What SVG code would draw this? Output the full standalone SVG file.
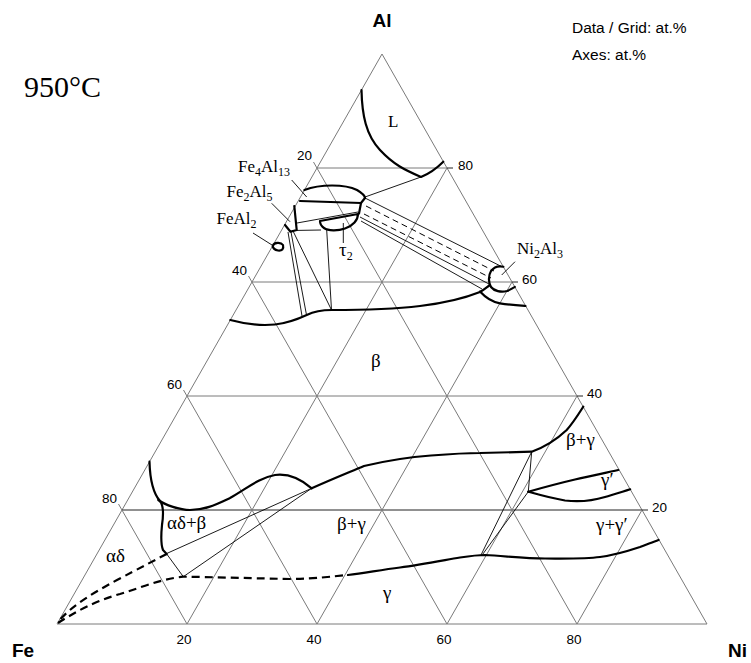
<svg xmlns="http://www.w3.org/2000/svg" width="751" height="663" viewBox="0 0 751 663">
<style>
.grid{stroke:#7a7a7a;stroke-width:1;fill:none}
.dark{stroke:#222;stroke-width:1;fill:none}
.b{stroke:#000;stroke-width:2.2;fill:none;stroke-linecap:round;stroke-linejoin:round}
.t{stroke:#000;stroke-width:0.9;fill:none}
.d{stroke:#000;stroke-width:1;fill:none;stroke-dasharray:6 4}
.bd{stroke:#000;stroke-width:2.2;fill:none;stroke-dasharray:8 5}
.ax{font-family:"Liberation Sans",Arial,sans-serif;font-size:13.5px;fill:#000}
.el{font-family:"Liberation Sans",Arial,sans-serif;font-size:19px;font-weight:bold;fill:#000}
.info{font-family:"Liberation Sans",Arial,sans-serif;font-size:15.5px;fill:#000}
.ph{font-family:"Liberation Serif","Times New Roman",serif;font-size:17px;fill:#000}
.gr{font-family:"Liberation Serif","Times New Roman",serif;font-size:19px;fill:#000}
</style>
<g id="grid">
<polygon class="grid" points="57,624 707,624 382,54"/>
<line class="dark" x1="122" y1="510" x2="642" y2="510"/>
<line class="grid" x1="187" y1="396" x2="577" y2="396"/>
<line class="grid" x1="252" y1="282" x2="512" y2="282"/>
<line class="grid" x1="317" y1="168" x2="447" y2="168"/>
<line class="grid" x1="187" y1="624" x2="447" y2="168"/>
<line class="grid" x1="317" y1="624" x2="512" y2="282"/>
<line class="grid" x1="447" y1="624" x2="577" y2="396"/>
<line class="grid" x1="577" y1="624" x2="642" y2="510"/>
<line class="grid" x1="187" y1="624" x2="118.5" y2="504"/>
<line class="grid" x1="317" y1="624" x2="183.5" y2="390"/>
<line class="grid" x1="447" y1="624" x2="248.5" y2="276"/>
<line class="grid" x1="577" y1="624" x2="313.5" y2="162"/>
<line class="dark" x1="447" y1="168" x2="453" y2="168"/>
<line class="dark" x1="512" y1="282" x2="518" y2="282"/>
<line class="dark" x1="577" y1="396" x2="583" y2="396"/>
<line class="dark" x1="642" y1="510" x2="648" y2="510"/>
</g>
<g id="axis-labels">
<text class="ax" x="312" y="160" text-anchor="end">20</text>
<text class="ax" x="247" y="275" text-anchor="end">40</text>
<text class="ax" x="182" y="389" text-anchor="end">60</text>
<text class="ax" x="117" y="503" text-anchor="end">80</text>
<text class="ax" x="458" y="169.5">80</text>
<text class="ax" x="522" y="283.5">60</text>
<text class="ax" x="587" y="397.5">40</text>
<text class="ax" x="652" y="511.5">20</text>
<text class="ax" x="184" y="644" text-anchor="middle">20</text>
<text class="ax" x="314" y="644" text-anchor="middle">40</text>
<text class="ax" x="444" y="644" text-anchor="middle">60</text>
<text class="ax" x="574" y="644" text-anchor="middle">80</text>
<text class="el" x="382" y="27" text-anchor="middle">Al</text>
<text class="el" x="12" y="657">Fe</text>
<text class="el" x="728" y="657">Ni</text>
<text class="info" x="572" y="33">Data / Grid: at.%</text>
<text class="info" x="572" y="60">Axes: at.%</text>
<text x="24" y="97" font-family="Liberation Serif,'Times New Roman',serif" font-size="30">950°C</text>
</g>
<g id="boundaries">
<path class="b" d="M361.5,90 C362,115 366,135 380,150 S405,170 421,177 Q433,172 443.3,161.7"/>
<path class="b" d="M304.4,190 C320,184 345,184 357,190 C362,193 365,196 365,198"/>
<path class="b" d="M300,201 L361,203 L365,198"/>
<path class="b" d="M361,203 L359,213.5"/>
<path class="b" d="M294.3,206 L296.7,230 L290.5,231.7 L285,225"/>
<path class="b" d="M320,221 L358,214 C358,220 353,226 345,228.5 C338,231 328,231 324,228 C321,226 320,223 320,221 Z"/>
<path class="b" d="M272.7,246 C274,242 281,242 283,245 C284,249 282,251 278,250.5 C275,250 273,248.5 272.7,246 Z"/>
<path class="b" d="M230.3,320 C245,324 260,326 275,324.5 C288,323 296,320 306.7,315 C315,311 322,310 331.5,310 C360,310 395,309 420,306 C445,303 465,298 480,292 C484,290 487,287 490,285"/>
<path class="b" d="M503.3,266.7 C498,265.5 494,267 491,271 C488,276 488.5,283 491,287 C494,291 501,292.5 507,291 C510,290 512.5,288 514.8,287"/>
<path class="b" d="M480,291.5 C485,297 492,302 500,303.3 C510,305 518,305.5 525.5,306"/>
<path class="b" d="M149.5,461.7 C150,480 153,493 160,501 C164,506 163.5,515 162,525 C161,535 161,545 163,550 L166.7,554"/>
<path class="b" d="M158.3,500 C165,505 180,510 190,510 C205,510 215,505 230,498 C245,490 258,478 275,475 C290,473 302,480 311.7,488.3"/>
<path class="b" d="M311.7,488.3 C330,480 345,474 364,466 C385,461 410,457 431,455.5 C450,454 470,453 480,453 L531.7,451.7 C545,447 555,441 566.7,430 C573,423 578,415 583.3,406.7"/>
<path class="b" d="M348,575 C365,573 380,570 400,567.5 C420,565 440,561 460,557.5 C470,556 478,555 485,555 C505,556 525,558.5 545,558.5 C565,558.5 585,559 600,557 C615,555 628,551 640,547 C648,544 653,542 658.5,540"/>
<path class="b" d="M528.3,491.7 C545,487 560,483 575,479.5 C590,476 605,473 618.3,470"/>
<path class="b" d="M528.3,491.7 C540,495 550,498 565,500.5 C578,502 592,501 605,497 C615,494 622,492 630.2,489.3"/>
<path class="bd" d="M166.7,554 C155,560 140,568 117,580 C95,592 72,605 58,622"/>
<path class="bd" d="M58,623 C75,612 95,601 120,594 C140,588 160,579 183.3,576.7 C210,577 240,578 290,579 C315,579 335,576 348,575"/>
</g>
<g id="tie-lines">
<line class="t" x1="421" y1="177" x2="365" y2="197"/>
<line class="t" x1="297" y1="223" x2="358" y2="212"/>
<line class="t" x1="291.7" y1="230.5" x2="321" y2="230"/>
<line class="t" x1="288" y1="232" x2="302" y2="316"/>
<line class="t" x1="291" y1="232" x2="306.5" y2="315"/>
<line class="t" x1="293" y1="231" x2="331.5" y2="310"/>
<line class="t" x1="326.7" y1="230" x2="331.5" y2="310"/>
<line class="t" x1="365" y1="198" x2="501.5" y2="266.5"/>
<line class="d" x1="366" y1="206" x2="494" y2="271"/>
<line class="d" x1="364" y1="214" x2="491" y2="278"/>
<line class="t" x1="360" y1="217" x2="489" y2="284"/>
<line class="t" x1="361" y1="221" x2="482" y2="289"/>
<line class="t" x1="166.7" y1="553.5" x2="311.7" y2="488.3"/>
<line class="t" x1="183.3" y1="576.7" x2="311.7" y2="488.3"/>
<line class="t" x1="166" y1="553" x2="183.3" y2="576.7"/>
<line class="t" x1="531.7" y1="451.7" x2="481" y2="555"/>
<line class="t" x1="528.3" y1="491.7" x2="482.5" y2="554.5"/>
<line class="t" x1="531.7" y1="451.7" x2="528.3" y2="491.7"/>
</g>
<g id="leaders">
<line class="t" x1="291.7" y1="180" x2="306.7" y2="197"/>
<line class="t" x1="271.7" y1="203.3" x2="290" y2="221.7"/>
<line class="t" x1="253" y1="233" x2="272" y2="245"/>
<line class="t" x1="343.3" y1="223" x2="343.3" y2="243"/>
<line class="t" x1="501.7" y1="275" x2="515" y2="261.7"/>
</g>
<g id="phase-labels">
<text class="ph" x="388" y="127">L</text>
<text class="ph" x="238" y="172">Fe<tspan font-size="12" dy="4">4</tspan><tspan dy="-4">Al</tspan><tspan font-size="12" dy="4">13</tspan></text>
<text class="ph" x="226.5" y="197">Fe<tspan font-size="12" dy="4">2</tspan><tspan dy="-4">Al</tspan><tspan font-size="12" dy="4">5</tspan></text>
<text class="ph" x="216.5" y="224">FeAl<tspan font-size="12" dy="4">2</tspan></text>
<text class="gr" x="339" y="256">τ<tspan font-size="12" dy="4">2</tspan></text>
<text class="ph" x="517" y="254">Ni<tspan font-size="12" dy="4">2</tspan><tspan dy="-4">Al</tspan><tspan font-size="12" dy="4">3</tspan></text>
<text class="gr" x="371" y="367">β</text>
<text class="gr" x="566" y="446">β+γ</text>
<text class="gr" x="601" y="486">γ′</text>
<text class="gr" x="596" y="531">γ+γ′</text>
<text class="gr" x="167" y="529">αδ+β</text>
<text class="gr" x="337" y="530">β+γ</text>
<text class="gr" x="106" y="562">αδ</text>
<text class="gr" x="383" y="599">γ</text>
</g>
</svg>
